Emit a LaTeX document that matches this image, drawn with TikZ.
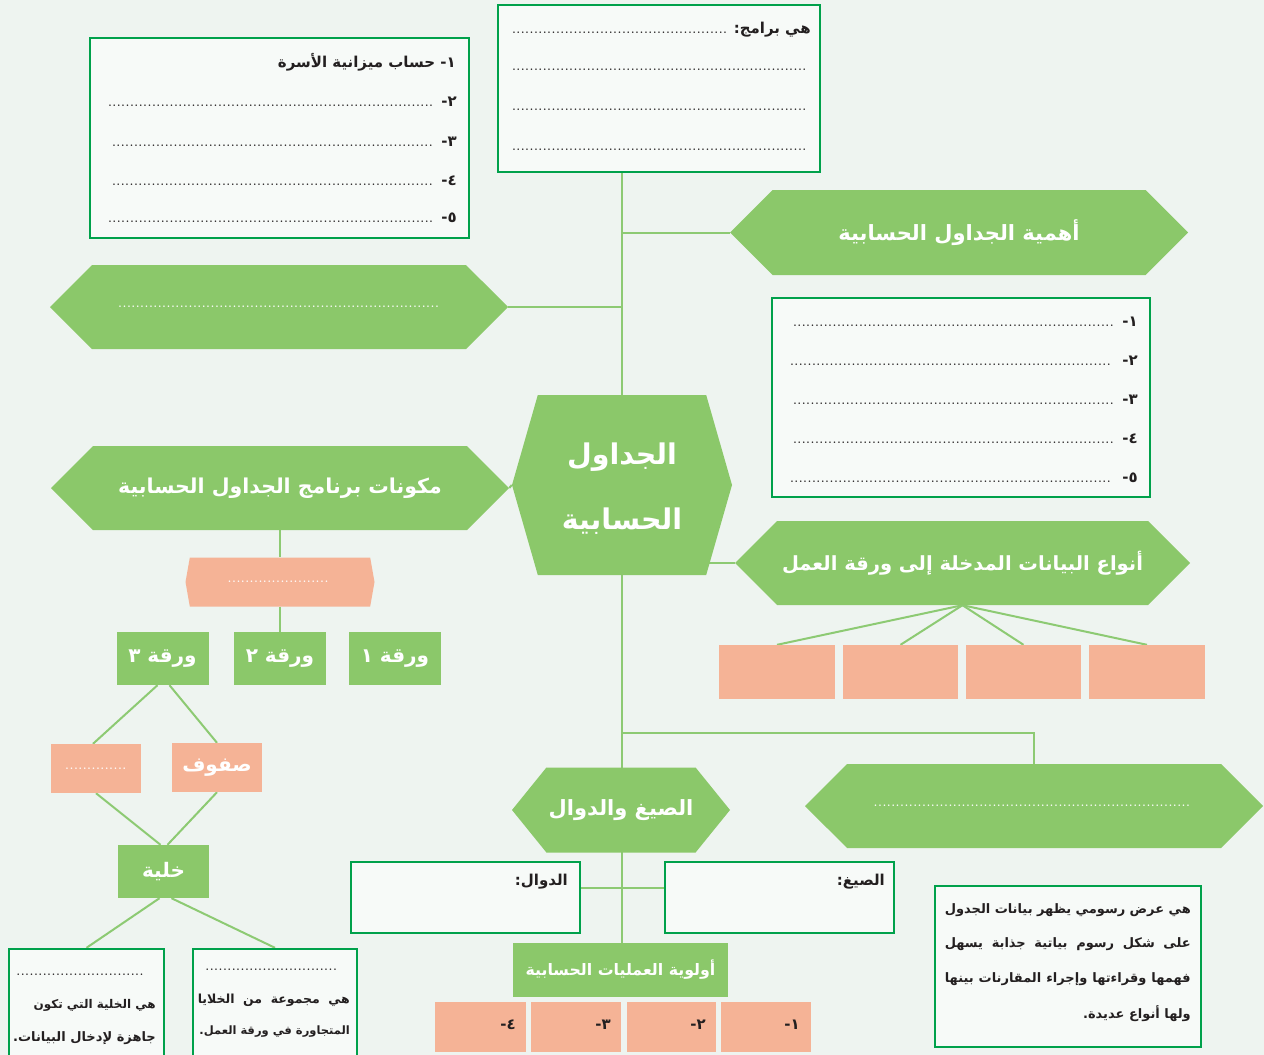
\documentclass[tikz,border=0pt]{standalone}
\usepackage{fontspec}
\usetikzlibrary{shapes.symbols,calc}
\TeXXeTstate=1
\newfontfamily\arfont[Script=Arabic]{DejaVu Sans}
\newcommand\artxt[1]{{\arfont\bfseries\beginR #1\endR}}
\newcommand\mydots{\leaders\hbox to 4.4pt{\hss\fontsize{11}{11}\selectfont\bfseries.\hss}\hfill}
\definecolor{hexgreen}{RGB}{139,200,106}
\definecolor{salmon}{RGB}{245,179,150}
\definecolor{framegreen}{RGB}{0,161,75}
\definecolor{linkgreen}{RGB}{141,202,115}
\definecolor{bgcol}{RGB}{238,244,240}
\definecolor{inktext}{RGB}{35,31,32}
\pgfdeclarelayer{bg}
\pgfsetlayers{bg,main}
\tikzset{
  hexnode/.style={signal, signal to=west and east, fill=hexgreen, draw=none, text=white,
    inner sep=0pt, font=\fontsize{21}{25}\selectfont},
  framebox/.style={draw=framegreen, line width=2.4pt, fill=white!55!bgcol, inner sep=0pt},
  gbox/.style={fill=hexgreen, draw=none, text=white, inner sep=0pt, font=\fontsize{20}{24}\selectfont},
  sbox/.style={fill=salmon, draw=none, text=white, inner sep=0pt, font=\fontsize{20}{24}\selectfont},
  boxtext/.style={inner sep=0pt, text=inktext, font=\fontsize{15}{18}\selectfont},
  smalltext/.style={inner sep=0pt, text=inktext, font=\fontsize{12.5}{15}\selectfont},
  link/.style={draw=linkgreen, line width=2pt},
}
\begin{document}
\begin{tikzpicture}[x=1pt,y=-1pt]
\useasboundingbox (0,0) rectangle (1264,1055);
\begin{pgfonlayer}{bg}
\fill[bgcol] (0,0) rectangle (1264,1055);
\end{pgfonlayer}

% framed boxes
\node[framebox, minimum width=379pt, minimum height=200pt] (TL) at (279.5,138) {};
\node[framebox, minimum width=322pt, minimum height=167pt] (TC) at (659,88.5) {};
\node[framebox, minimum width=378pt, minimum height=199pt] (RB) at (961,397.5) {};
\node[framebox, minimum width=229pt, minimum height=71pt] (DW) at (465.5,897.5) {};
\node[framebox, minimum width=229pt, minimum height=71pt] (SG) at (779.5,897.5) {};
\node[framebox, minimum width=266pt, minimum height=161pt] (RT) at (1068,966.5) {};
\node[framebox, minimum width=155pt, minimum height=110pt] (BL) at (86.5,1004) {};
\node[framebox, minimum width=164pt, minimum height=110pt] (BR) at (275,1004) {};

% hexagons
\node[hexnode, minimum width=458pt, minimum height=85pt] (AH) at (959,232.5) {\artxt{أهمية الجداول الحسابية}};
\node[hexnode, minimum width=458pt, minimum height=84pt] (HL) at (279,307) {\hbox to 322pt{\mydots}};
\node[hexnode, minimum width=458pt, minimum height=84pt, font=\fontsize{20.5}{25}\selectfont] (MK) at (280,488) {\artxt{مكونات برنامج الجداول الحسابية}};
\node[hexnode, minimum width=455pt, minimum height=84pt, font=\fontsize{19.5}{24}\selectfont] (AN) at (962.5,563) {\artxt{أنواع البيانات المدخلة إلى ورقة العمل}};
\node[hexnode, minimum width=458pt, minimum height=84pt] (HR) at (1034,806) {\hbox to 321pt{\mydots}};
\node[hexnode, signal pointer angle=148, minimum width=220pt, minimum height=180pt] (CH) at (622,485) {};
\node[inner sep=0pt, text=white, align=center, font=\fontsize{28.5}{65}\selectfont] (CHt) at (622,489) {\artxt{الجداول}\\\artxt{الحسابية}};
\node[hexnode, signal pointer angle=102, minimum width=218pt, minimum height=85pt] (SD) at (621,810) {\artxt{الصيغ والدوال}};
\node[hexnode, fill=salmon, signal pointer angle=160, minimum width=189pt, minimum height=49pt] (SH) at (280,582) {\hbox to 105pt{\mydots}};

% small boxes
\node[gbox, minimum width=92pt, minimum height=53pt] (W3) at (162.5,658.5) {\artxt{ورقة ٣}};
\node[gbox, minimum width=92pt, minimum height=53pt] (W2) at (280,658.5) {\artxt{ورقة ٢}};
\node[gbox, minimum width=92pt, minimum height=53pt] (W1) at (395,658.5) {\artxt{ورقة ١}};
\node[sbox, minimum width=90pt, minimum height=49pt] (DS) at (96,768.5) {\hbox to 62pt{\mydots}};
\node[sbox, minimum width=90pt, minimum height=49pt] (SF) at (217,767.5) {\artxt{صفوف}};
\node[gbox, minimum width=91pt, minimum height=53pt] (KH) at (163.5,871.5) {\artxt{خلية}};
\node[sbox, minimum width=116pt, minimum height=54pt] (D1) at (777,672) {};
\node[sbox, minimum width=115pt, minimum height=54pt] (D2) at (900.5,672) {};
\node[sbox, minimum width=115pt, minimum height=54pt] (D3) at (1023.5,672) {};
\node[sbox, minimum width=116pt, minimum height=54pt] (D4) at (1147,672) {};
\node[gbox, minimum width=215pt, minimum height=54pt, font=\fontsize{15.8}{19}\selectfont] (AW) at (620.5,970) {\artxt{أولوية العمليات الحسابية}};
\node[sbox, minimum width=91pt, minimum height=50pt] (P4) at (480.5,1027) {};
\node[sbox, minimum width=90pt, minimum height=50pt] (P3) at (576,1027) {};
\node[sbox, minimum width=89pt, minimum height=50pt] (P2) at (671.5,1027) {};
\node[sbox, minimum width=90pt, minimum height=50pt] (P1) at (766,1027) {};

% connectors
\begin{pgfonlayer}{bg}
\coordinate (topj) at (CH.north |- TC.south);
\draw[link] (topj) -- (AW.north -| CH.north);
\draw[link] (CH.north |- AH.west) -- (AH.west);
\draw[link] (CH.north |- HL.east) -- (HL.east);
\draw[link] (CH.west) -- (MK.east);
\coordinate (anj) at ([xshift=-28pt]AN.west);
\draw[link] (anj) -- (AN.west);
\coordinate (hrj) at (CH.south |- 0,733);
\draw[link] (hrj) -| (HR.north);
\draw[link] ([yshift=10pt]DW.east) -- ([yshift=10pt]SG.west);
\draw[link] (AN.south) -- (D1.north);
\draw[link] (AN.south) -- (D2.north);
\draw[link] (AN.south) -- (D3.north);
\draw[link] (AN.south) -- (D4.north);
\draw[link] (MK.south) -- (SH.north);
\draw[link] (SH.south) -- (W2.north);
\draw[link] ([xshift=-5pt]W3.south) -- ([xshift=-3pt]DS.north);
\draw[link] ([xshift=7pt]W3.south) -- (SF.north);
\draw[link] (DS.south) -- ([xshift=-3pt]KH.north);
\draw[link] (SF.south) -- ([xshift=4pt]KH.north);
\draw[link] ([xshift=-4pt]KH.south) -- (BL.north);
\draw[link] ([xshift=8pt]KH.south) -- (BR.north);
\end{pgfonlayer}

% texts: top-left box
\node[boxtext, anchor=east] (tl1) at (456,62) {\artxt{١- حساب ميزانية الأسرة}};
\node[boxtext, anchor=east] (tl2) at (457,102) {\hbox to 349pt{\mydots\hspace{5pt}\artxt{٢-}}};
\node[boxtext, anchor=east] (tl3) at (457,142) {\hbox to 345pt{\mydots\hspace{5pt}\artxt{٣-}}};
\node[boxtext, anchor=east] (tl4) at (457,181) {\hbox to 345pt{\mydots\hspace{5pt}\artxt{٤-}}};
\node[boxtext, anchor=east] (tl5) at (457,218) {\hbox to 349pt{\mydots\hspace{5pt}\artxt{٥-}}};

% top-center box
\node[boxtext, anchor=east] (tc1) at (811,30) {\hbox to 299pt{\mydots\hspace{5pt}\artxt{هي برامج:}}};
\node[boxtext, anchor=east] (tc2) at (810,70) {\hbox to 298pt{\mydots}};
\node[boxtext, anchor=east] (tc3) at (810,110) {\hbox to 298pt{\mydots}};
\node[boxtext, anchor=east] (tc4) at (810,150) {\hbox to 298pt{\mydots}};

% right numbered box
\node[boxtext, anchor=east] (rb1) at (1138,322) {\hbox to 345pt{\mydots\hspace{8pt}\artxt{١-}}};
\node[boxtext, anchor=east] (rb2) at (1138,361) {\hbox to 348pt{\mydots\hspace{8pt}\artxt{٢-}}};
\node[boxtext, anchor=east] (rb3) at (1138,400) {\hbox to 345pt{\mydots\hspace{8pt}\artxt{٣-}}};
\node[boxtext, anchor=east] (rb4) at (1138,439) {\hbox to 345pt{\mydots\hspace{8pt}\artxt{٤-}}};
\node[boxtext, anchor=east] (rb5) at (1138,478) {\hbox to 348pt{\mydots\hspace{8pt}\artxt{٥-}}};

% formulas / functions
\node[boxtext, anchor=east] (dwl) at (568,882) {\artxt{الدوال:}};
\node[boxtext, anchor=east] (sgl) at (885,882) {\artxt{الصيغ:}};

% priority labels
\node[boxtext, anchor=east] (p4l) at (516,1025) {\artxt{٤-}};
\node[boxtext, anchor=east] (p3l) at (611,1025) {\artxt{٣-}};
\node[boxtext, anchor=east] (p2l) at (706,1025) {\artxt{٢-}};
\node[boxtext, anchor=east] (p1l) at (800,1025) {\artxt{١-}};

% right text box
\node[boxtext, anchor=east, font=\fontsize{13}{16}\selectfont] (rt1) at (1191,910) {\hbox to 246pt{\artxt{هي عرض رسومي يظهر بيانات الجدول}}};
\node[boxtext, anchor=east, font=\fontsize{13}{16}\selectfont] (rt2) at (1191,944) {\hbox to 246pt{\artxt{على شكل رسوم بياتية جذابة يسهل}}};
\node[boxtext, anchor=east, font=\fontsize{13}{16}\selectfont] (rt3) at (1191,979) {\hbox to 246pt{\artxt{فهمها وقراءتها وإجراء المقارنات بينها}}};
\node[boxtext, anchor=east, font=\fontsize{13}{16}\selectfont] (rt4) at (1191,1014) {\artxt{ولها أنواع عديدة.}};

% bottom-left boxes
\node[boxtext, anchor=west] (bl0) at (16,975) {\hbox to 130pt{\mydots}};
\node[smalltext, anchor=east, font=\fontsize{12}{15}\selectfont] (bl1) at (156,1005) {\artxt{هي الخلية التي تكون}};
\node[smalltext, anchor=east, font=\fontsize{13}{15}\selectfont] (bl2) at (156,1038) {\artxt{جاهزة لإدخال البيانات.}};
\node[boxtext, anchor=west] (br0) at (205,970) {\hbox to 135pt{\mydots}};
\node[smalltext, anchor=east] (br1) at (350,1000) {\hbox to 152pt{\artxt{هي مجموعة من الخلايا}}};
\node[smalltext, anchor=east, font=\fontsize{11.5}{15}\selectfont] (br2) at (350,1032) {\artxt{المتجاورة في ورقة العمل.}};
\end{tikzpicture}
\end{document}
